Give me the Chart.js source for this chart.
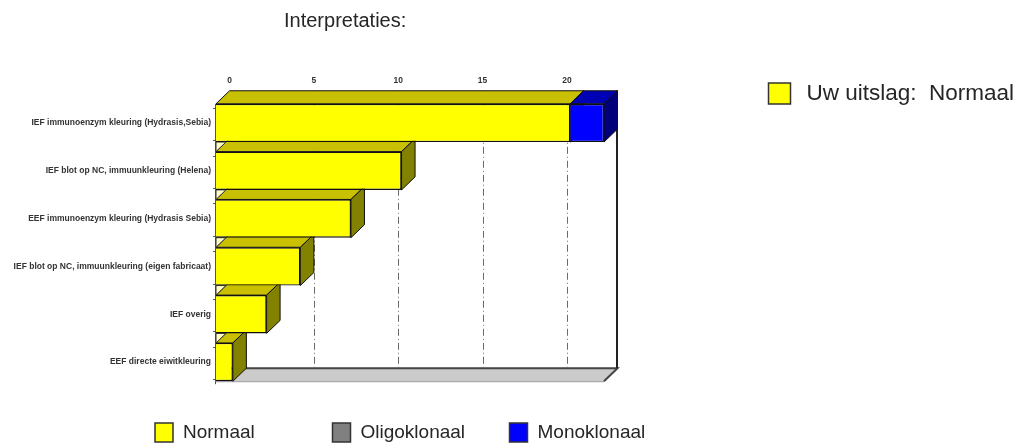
<!DOCTYPE html>
<html><head><meta charset="utf-8">
<script src="https://cdn.jsdelivr.net/npm/chart.js@4.4.1/dist/chart.umd.min.js"></script>
<style>html,body{margin:0;padding:0;background:#fff;overflow:hidden}#wrap{position:relative;width:1025px;height:444px}</style>
</head><body><div id="wrap"><canvas id="c" width="1025" height="444"></canvas></div>
<script>
const categories = [
  'IEF immunoenzym kleuring (Hydrasis,Sebia)',
  'IEF blot op NC, immuunkleuring (Helena)',
  'EEF immunoenzym kleuring (Hydrasis Sebia)',
  'IEF blot op NC, immuunkleuring (eigen fabricaat)',
  'IEF overig',
  'EEF directe eiwitkleuring'
];
const normaal = [21, 11, 8, 5, 3, 1];
const oligoklonaal = [0, 0, 0, 0, 0, 0];
const monoklonaal = [2, 0, 0, 0, 0, 0];
const xTickValues = [0, 5, 10, 15, 20];
const xMax = 23;
const seriesNames = ['Normaal', 'Oligoklonaal', 'Monoklonaal'];
const titleText = 'Interpretaties:';
const resultText = 'Uw uitslag:  Normaal';

const FRONT = ['#ffff00', '#808080', '#0000ff'];
const TOPF = ['#c8c000', '#606060', '#0000b4'];
const SIDEF = ['#828200', '#404040', '#00007a'];
const DX = 13.5, DY = 13;
const FONT = "'Liberation Sans', Arial, sans-serif";

function poly(ctx, pts, fill, stroke, lw) {
  ctx.beginPath();
  ctx.moveTo(pts[0][0], pts[0][1]);
  for (let i = 1; i < pts.length; i++) ctx.lineTo(pts[i][0], pts[i][1]);
  ctx.closePath();
  if (fill) { ctx.fillStyle = fill; ctx.fill(); }
  if (stroke) { ctx.strokeStyle = stroke; ctx.lineWidth = lw || 1; ctx.stroke(); }
}

const threeD = {
  id: 'threeD',
  beforeDatasetsDraw(chart) {
    const ctx = chart.ctx, xs = chart.scales.x;
    const metas = chart.getSortedVisibleDatasetMetas();
    const m0 = metas[0];
    const rows = m0.data.map(el => el.getProps(['y', 'height'], true));
    const first = rows[0], last = rows[rows.length - 1];
    const wallTop = first.y - first.height / 2 - DY;
    const floorFront = last.y + last.height / 2;
    const floorBack = floorFront - DY;
    const x0 = xs.getPixelForValue(0), xR = xs.getPixelForValue(xMax);
    ctx.save();
    // floor
    poly(ctx, [[x0, floorFront], [x0 + DX, floorBack], [xR + DX, floorBack], [xR, floorFront]], '#cbcbcb', null);
    ctx.lineWidth = 1; ctx.strokeStyle = '#9a9a9a';
    ctx.beginPath(); ctx.moveTo(x0, floorFront + 0.5); ctx.lineTo(xR, floorFront + 0.5); ctx.stroke();
    ctx.lineWidth = 2; ctx.strokeStyle = '#444';
    ctx.beginPath(); ctx.moveTo(x0 + DX, floorBack); ctx.lineTo(xR + DX, floorBack); ctx.lineTo(xR, floorFront); ctx.stroke();
    // back wall gridlines
    ctx.lineWidth = 1; ctx.strokeStyle = '#6a6a6a'; ctx.setLineDash([7, 3, 1, 3]);
    xTickValues.forEach(v => {
      if (v === 0) return;
      const gx = Math.round(xs.getPixelForValue(v) + DX) + 0.5;
      ctx.beginPath(); ctx.moveTo(gx, wallTop); ctx.lineTo(gx, floorBack); ctx.stroke();
    });
    ctx.setLineDash([]);
    // right wall line
    ctx.lineWidth = 2; ctx.strokeStyle = '#222';
    ctx.beginPath(); ctx.moveTo(xR + DX - 0.5, wallTop); ctx.lineTo(xR + DX - 0.5, floorBack); ctx.stroke();
    // left axis line with small ticks
    ctx.lineWidth = 1; ctx.strokeStyle = '#555';
    ctx.beginPath(); ctx.moveTo(x0 - 0.5, first.y - first.height / 2); ctx.lineTo(x0 - 0.5, floorFront + 3); ctx.stroke();
    rows.forEach(r => {
      [r.y - r.height / 2 + 4, r.y + r.height / 2 - 2].forEach(ty => {
        ctx.beginPath(); ctx.moveTo(x0 - 3, Math.round(ty) + 0.5); ctx.lineTo(x0, Math.round(ty) + 0.5); ctx.stroke();
      });
    });
    // 3D faces
    for (let i = rows.length - 1; i >= 0; i--) {
      metas.forEach(meta => {
        const el = meta.data[i];
        const p = el.getProps(['x', 'y', 'base', 'height'], true);
        if (Math.abs(p.x - p.base) < 0.5) return;
        const top = p.y - p.height / 2, bot = p.y + p.height / 2;
        const di = meta.index;
        poly(ctx, [[p.base, top], [p.base + DX, top - DY], [p.x + DX, top - DY], [p.x, top]], TOPF[di], '#111', 1);
        poly(ctx, [[p.x, top], [p.x + DX, top - DY], [p.x + DX, bot - DY], [p.x, bot]], SIDEF[di], '#111', 1);
      });
      if (i > 0) {
        const prevBot = rows[i - 1].y + rows[i - 1].height / 2;
        const top = rows[i].y - rows[i].height / 2;
        const h = top - prevBot;
        if (h > 0) poly(ctx, [[x0, top], [x0, prevBot], [x0 + h * DX / DY, prevBot]], '#ffffc4', '#333', 1);
      }
    }
    ctx.restore();
  },
  afterDraw(chart) {
    const ctx = chart.ctx;
    ctx.save();
    ctx.fillStyle = '#262626';
    ctx.textBaseline = 'middle';
    ctx.textAlign = 'left';
    ctx.font = '20px ' + FONT;
    ctx.fillText(titleText, 284, 21);
    // right legend
    ctx.fillStyle = FRONT[0];
    ctx.fillRect(768.5, 83, 22, 21);
    ctx.strokeStyle = '#333'; ctx.lineWidth = 1.5;
    ctx.strokeRect(768.5, 83, 22, 21);
    ctx.fillStyle = '#262626';
    ctx.font = '22.5px ' + FONT;
    ctx.fillText(resultText, 806.5, 94);
    // bottom legend
    const bx = [155, 332.5, 509.5];
    ctx.font = '19px ' + FONT;
    chart.data.datasets.forEach((ds, k) => {
      ctx.fillStyle = ds.backgroundColor;
      ctx.fillRect(bx[k], 423, 18, 19);
      ctx.strokeStyle = '#333'; ctx.lineWidth = 1.5;
      ctx.strokeRect(bx[k], 423, 18, 19);
      ctx.fillStyle = '#262626';
      ctx.fillText(ds.label, bx[k] + 28, 432.5);
    });
    ctx.restore();
  }
};

new Chart(document.getElementById('c'), {
  type: 'bar',
  data: {
    labels: categories,
    datasets: [
      { label: seriesNames[0], data: normaal, backgroundColor: FRONT[0] },
      { label: seriesNames[1], data: oligoklonaal, backgroundColor: FRONT[1] },
      { label: seriesNames[2], data: monoklonaal, backgroundColor: FRONT[2] }
    ]
  },
  options: {
    indexAxis: 'y',
    responsive: false,
    animation: false,
    devicePixelRatio: 1,
    layout: { padding: { left: 0, top: 0, right: 421, bottom: 58 } },
    datasets: { bar: { borderColor: '#111', borderWidth: 1.4, barPercentage: 0.8, categoryPercentage: 1 } },
    plugins: { legend: { display: false }, title: { display: false }, tooltip: { enabled: false } },
    scales: {
      x: {
        position: 'top', min: 0, max: xMax, stacked: true,
        grid: { display: false, drawTicks: false }, border: { display: false },
        afterBuildTicks: s => { s.ticks = xTickValues.map(v => ({ value: v })); },
        afterFit: s => { s.height = 99; },
        ticks: { padding: 13, labelOffset: DX, color: '#333', font: { family: FONT, size: 8.5, weight: 'bold' } }
      },
      y: {
        stacked: true,
        grid: { display: false, drawTicks: false },
        border: { display: false },
        afterFit: s => { s.width = 216; },
        ticks: { padding: 5, color: '#333', font: { family: FONT, size: 8.5, weight: 'bold' } }
      }
    }
  },
  plugins: [threeD]
});
</script>
</body></html>
